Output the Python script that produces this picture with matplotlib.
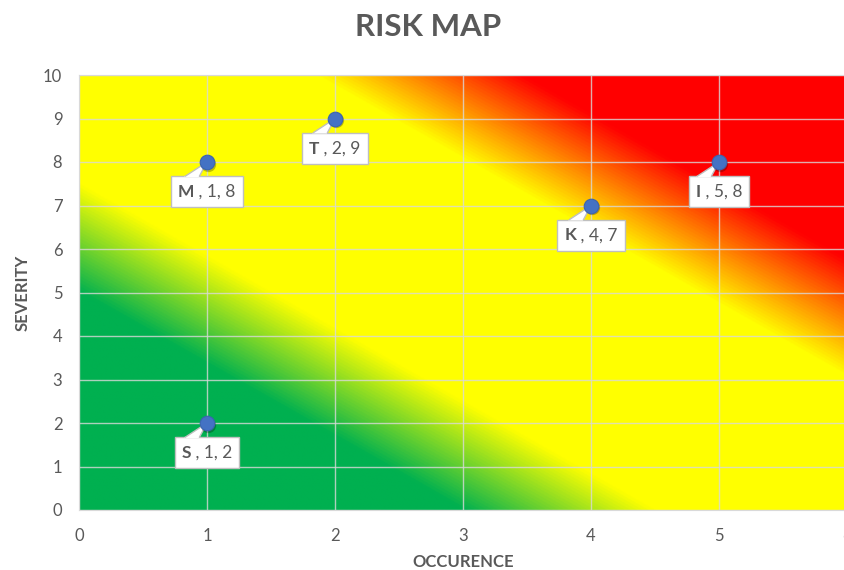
import numpy as np
import matplotlib
matplotlib.use('Agg')
import matplotlib.pyplot as plt
from matplotlib.colors import LinearSegmentedColormap
from matplotlib.patches import Rectangle, Polygon
from matplotlib.lines import Line2D
from matplotlib.transforms import ScaledTranslation

# risk items: code, occurence, severity
codes = ['S', 'M', 'T', 'K', 'I']
occurence = [1, 1, 2, 4, 5]
severity = [2, 8, 9, 7, 8]

xticks = [0, 1, 2, 3, 4, 5, 6]
yticks = [0, 1, 2, 3, 4, 5, 6, 7, 8, 9, 10]

plt.rcParams['font.family'] = ['Lato', 'DejaVu Sans']
grey = '#595959'

fig = plt.figure(figsize=(8.45, 5.7), dpi=100)
ax = fig.add_axes([79 / 845, 60 / 570, 768 / 845, 435 / 570])

# diagonal green -> yellow -> red background
gx = np.linspace(0, 6, 600)
gy = np.linspace(0, 10, 1000)
X, Y = np.meshgrid(gx, gy)
S = (X + 0.6 * Y) / 12.0
cmap = LinearSegmentedColormap.from_list('risk', [
    (0.0, '#00b050'), (0.25, '#00b050'), (0.375, '#ffff00'),
    (0.655, '#ffff00'), (0.79, '#ff0000'), (1.0, '#ff0000')])
ax.imshow(S, extent=(0, 6, 0, 10), origin='lower', aspect='auto',
          cmap=cmap, vmin=0, vmax=1, interpolation='bilinear', zorder=0)

ax.set_xlim(0, 6)
ax.set_ylim(0, 10)
ax.set_xticks(xticks)
ax.set_yticks(yticks)
ax.grid(True, color='#d9d9d9', alpha=0.8, lw=1)
ax.tick_params(length=0, colors=grey, labelsize=12)
ax.tick_params(axis='x', pad=13)
ax.tick_params(axis='y', pad=12)
for sp in ax.spines.values():
    sp.set_color('#d9d9d9')

ax.set_xlabel('OCCURENCE', fontweight='bold', color=grey, fontsize=12, labelpad=7)
ax.set_ylabel('SEVERITY', fontweight='bold', color=grey, fontsize=12, labelpad=9)
fig.text(428 / 845, 1 - 27 / 570, 'RISK MAP', ha='center', va='center',
         fontsize=22.5, fontweight='bold', color=grey)

# markers with a soft shadow
for x, y in zip(occurence, severity):
    sh = ScaledTranslation(1.5 / 100, -1.5 / 100, fig.dpi_scale_trans)
    ax.plot([x], [y], 'o', ms=11, color='black', alpha=0.25, mec='none',
            transform=ax.transData + sh, zorder=8, clip_on=False)
ax.plot(occurence, severity, 'o', ms=10.5, color='#4472c4', mec='#3b64b0',
        mew=0.8, zorder=9, clip_on=False)

# callout labels
fig.canvas.draw()
renderer = fig.canvas.get_renderer()
for code, x, y in zip(codes, occurence, severity):
    b = ax.annotate(code, (x, y), xytext=(0, -30), textcoords='offset pixels',
                    ha='right', va='center', fontweight='bold', fontsize=12.5,
                    color=grey, zorder=10)
    r = ax.annotate(' , %d, %d' % (x, y), (x, y), xytext=(0, -30),
                    textcoords='offset pixels', ha='left', va='center',
                    fontsize=12.5, color=grey, zorder=10)
    w1 = b.get_window_extent(renderer).width
    w2 = r.get_window_extent(renderer).width
    split = (w1 - w2) / 2
    b.xyann = (split, -30)
    r.xyann = (split, -30)

    tr = ScaledTranslation(x, y, ax.transData)
    half = (w1 + w2) / 2 + 7
    ax.add_patch(Rectangle((-half, -45), 2 * half, 31, transform=tr,
                           fc='white', ec='#bfbfbf', lw=1, zorder=6,
                           clip_on=False))
    ax.add_patch(Polygon([(0, 0), (-23, -15), (-8, -15)], closed=True,
                         transform=tr, fc='white', ec='none', zorder=7,
                         clip_on=False))
    for bx in (-23, -8):
        ax.add_line(Line2D([bx * 14 / 15, 0], [-14, 0], transform=tr,
                           color='#bfbfbf', lw=1, zorder=7, clip_on=False))

fig.savefig('out.png', dpi=100)
